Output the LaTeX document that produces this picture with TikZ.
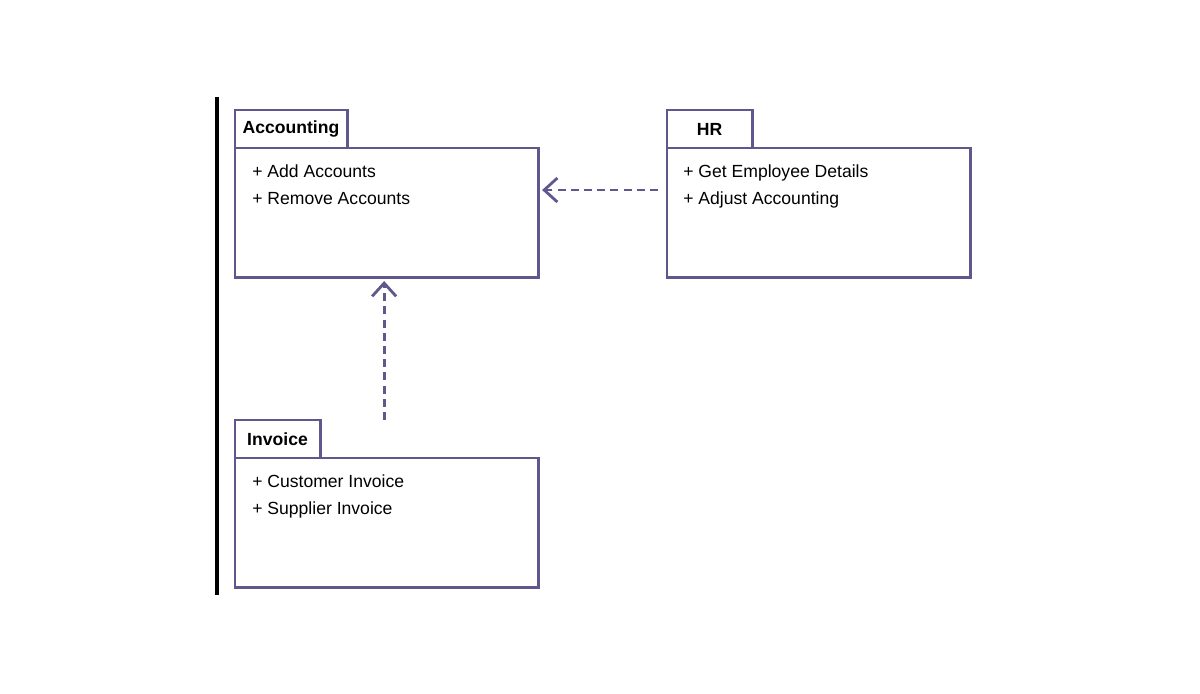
\documentclass[tikz,border=0pt]{standalone}
\usepackage{fontspec}
\setmainfont{Liberation Sans}
\usepackage{tikz}
\usetikzlibrary{arrows.meta, positioning}
\definecolor{pkgline}{RGB}{94,88,140}

\tikzset{
  pkgbody/.style={draw=pkgline, line width=2.1pt, fill=white, rectangle, anchor=north west, outer sep=0pt, minimum width=7.575cm, minimum height=3.225cm},
  pkgtab/.style={draw=pkgline, line width=2.1pt, fill=white, rectangle, outer sep=0pt, inner sep=0pt, minimum height=0.95cm, font=\fontsize{12.5}{15}\selectfont\bfseries},
  pkgitem/.style={anchor=base west, inner sep=0pt, font=\fontsize{12.5}{15}\selectfont},
  usedep/.style={draw=pkgline, line width=2pt, dash pattern=on 0.2cm off 0.13cm, -{Straight Barb[length=0.33cm, width=0.6cm]}}
}

\begin{document}
\begin{tikzpicture}[x=0.025cm, y=-0.025cm]
\useasboundingbox (0,0) rectangle (1200,693);
\draw[line width=2.6pt] (217,97) -- (217,595);

\node (acc) [pkgbody] at (235,148) {};
\node (acctab) [pkgtab, minimum width=2.8cm, above right=0cm and 0cm of acc.north west] {Accounting};
\node (accadd) [pkgitem] at (252,177) {+ Add Accounts};
\node (accrem) [pkgitem] at (252,204) {+ Remove Accounts};

\node (hr) [pkgbody] at (667,148) {};
\node (hrtab) [pkgtab, minimum width=2.125cm, above right=0cm and 0cm of hr.north west] {HR};
\node (hrget) [pkgitem] at (683,177) {+ Get Employee Details};
\node (hradj) [pkgitem] at (683,204) {+ Adjust Accounting};

\node (inv) [pkgbody] at (235,458) {};
\node (invtab) [pkgtab, minimum width=2.125cm, above right=0cm and 0cm of inv.north west] {Invoice};
\node (invcus) [pkgitem] at (252,487) {+ Customer Invoice};
\node (invsup) [pkgitem] at (252,514) {+ Supplier Invoice};

\draw[usedep, shorten <=0.225cm, shorten >=0.1cm] ([yshift=0.5625cm]hr.west) -- ([yshift=0.5625cm]acc.east);
\draw[usedep, shorten >=0.1cm] ([xshift=-0.06cm]inv.north |- invtab.north) -- ([xshift=-0.06cm]acc.south);
\end{tikzpicture}
\end{document}
